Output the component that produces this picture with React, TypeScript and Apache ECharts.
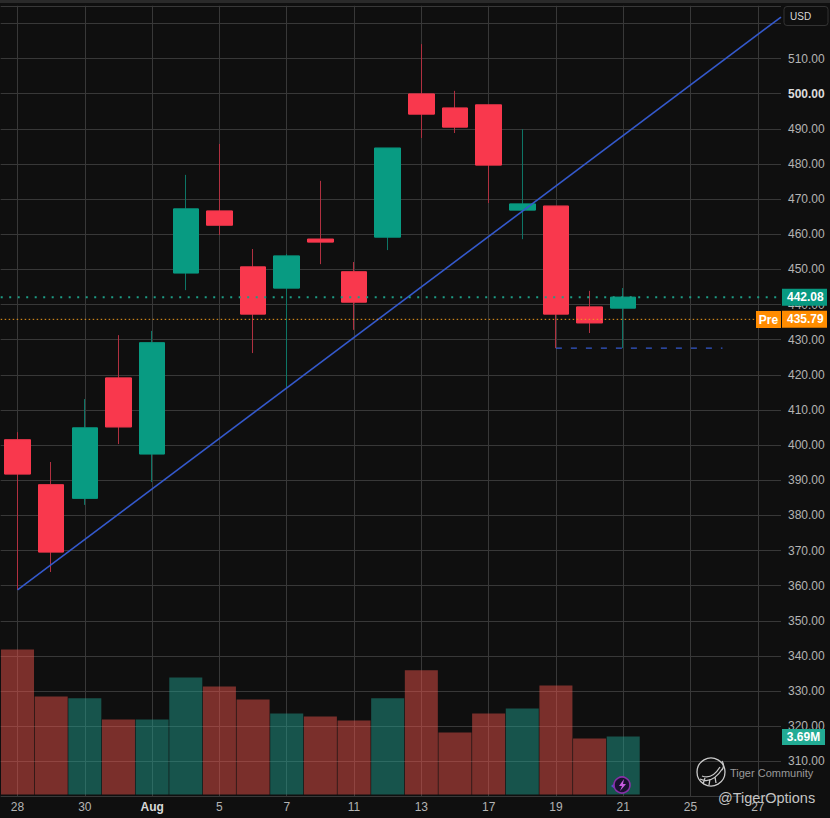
import React, { useEffect, useRef } from "react";
import * as echarts from "echarts";

const categories = ["28","29","30","31","Aug","4","5","6","7","8","11","12","13","14","17","18","19","20","21","22","25","26","27","28"];
// [open, close, low, high]
const candles = [
  [401.5,391.8,358.8,403.7],[388.7,369.6,363.9,395.2],[384.9,404.9,383.0,413.1],[419.1,405.2,400.3,431.3],
  [397.5,429.1,389.5,432.5],[449.0,467.2,444.1,476.9],[466.6,462.6,459.8,485.7],[450.7,437.3,426.2,455.8],
  [444.7,453.8,416.3,454.4],[458.6,457.8,451.5,475.2],[449.3,440.7,432.8,452.1],[459.2,484.5,455.5,484.5],
  [499.9,494.2,487.4,514.1],[495.9,490.5,488.8,500.8],[496.8,479.7,468.9,496.8],[466.9,468.6,458.6,489.9],
  [468.0,437.3,427.6,468.0],[439.3,434.8,431.9,443.9],[439.0,442.08,427.6,444.7],
];
const volumes = [9.22,6.23,6.11,4.77,4.77,7.44,6.87,6.04,5.15,4.96,4.71,6.11,7.89,3.94,5.15,5.47,6.93,3.56,3.69];
const trendLine = [[0,358.8],[22.69,521.8]];
const supportLine = [[16,427.6],[20.95,427.6]];
const lastPrice = 442.08;
const prePrice = 435.79;
const lastVolume = "3.69M";
const xEnd = [-0.5, 22.69];
const priceRange = [300, 525];
const volumeMax = 50.5;

const UP = "#089b82", DOWN = "#f9384d";
const UP_WICK = "#0d7566", DOWN_WICK = "#b03040";
const LEFT = 0.7, RIGHT_EDGE = 781, STEP = 33.65;
const TOP = 5.8, BOTTOM = 796.6;
const FONT = "'Liberation Sans', Arial, sans-serif";

echarts.graphic.registerShape("bolt", echarts.graphic.extendPath("M624 779L619 786L622 786L620 791L626 784L623 784Z", {}));
echarts.graphic.registerShape("tigerStripes", echarts.graphic.extendPath(
  "M702 776Q712 780 720 767M700 779Q712 785 723 768M722 761Q725 766 722 770M705 778L703 784M710 779L709 785M715 777L716 783", {}));

function tag(x: number, y: number, w: number, h: number, fill: string, text: string, bold = true) {
  return {
    type: "group", z: 30,
    children: [
      { type: "rect", z: 30, shape: { x, y, width: w, height: h }, style: { fill } },
      { type: "text", z: 31, x: x + w / 2, y: y + h / 2,
        style: { text, fill: "#fff", font: `${bold ? "bold " : ""}12px ${FONT}`, align: "center", verticalAlign: "middle" } },
    ],
  };
}

export default function App() {
  const ref = useRef<HTMLDivElement>(null);
  useEffect(() => {
    document.body.style.margin = "0";
    const chart = echarts.init(ref.current!, null, { renderer: "svg" });
    const gridWidth = STEP * categories.length;
    const tagLine = (name: string, value: number, color: string, width: number, dash: number[], bg: string) => ({
      name, type: "line", xAxisIndex: 2, yAxisIndex: 3, z: 6, silent: true, symbol: "none",
      lineStyle: { color, width, type: dash },
      data: [[xEnd[0], value], [xEnd[1], value]],
      endLabel: {
        show: true, formatter: value.toFixed(2), distance: 1, color: "#fff", backgroundColor: bg,
        fontFamily: FONT, fontSize: 12, fontWeight: "bold", padding: [3, 3, 3, 5], width: 37, height: 11, lineHeight: 11, align: "left",
      },
    });
    chart.setOption({
      animation: false,
      backgroundColor: "#0f0f0f",
      textStyle: { fontFamily: FONT },
      grid: [
        { left: LEFT, top: TOP, width: gridWidth, height: BOTTOM - TOP, containLabel: false },
        { left: LEFT, top: 0, width: gridWidth, height: 794.5 },
        { left: LEFT, top: TOP, width: RIGHT_EDGE - LEFT, height: BOTTOM - TOP },
      ],
      xAxis: [
        {
          type: "category", gridIndex: 0, data: categories, boundaryGap: true,
          axisLine: { show: false }, axisTick: { show: false },
          axisLabel: {
            interval: 1, color: "#b4b4b4", fontSize: 12, margin: 4, hideOverlap: false,
            formatter: (v: string) => (v === "Aug" ? `{b|${v}}` : v),
            rich: { b: { fontWeight: "bold", color: "#d8d8d8", fontSize: 12 } },
          },
          splitLine: { show: true, interval: 1, alignWithLabel: true, lineStyle: { color: "#383838", width: 1 } },
        },
        { type: "category", gridIndex: 1, data: categories, show: false },
        { type: "value", gridIndex: 2, min: xEnd[0], max: xEnd[1], show: false, splitLine: { show: false } },
      ],
      yAxis: [
        { type: "value", gridIndex: 0, min: priceRange[0], max: priceRange[1], show: false, splitLine: { show: false } },
        { type: "value", gridIndex: 1, min: 0, max: volumeMax, show: false, splitLine: { show: false } },
        { type: "value", gridIndex: 2, min: priceRange[0], max: priceRange[1], show: false, splitLine: { show: false } },
        {
          type: "value", gridIndex: 2, position: "right", min: priceRange[0], max: priceRange[1], interval: 10,
          axisLine: { show: false }, axisTick: { show: false },
          splitLine: { show: true, lineStyle: { color: "#383838", width: 1 } },
          axisLabel: {
            color: "#b4b4b4", fontSize: 12, margin: 7,
            showMinLabel: false, showMaxLabel: false,
            formatter: (v: number) => {
              if (v >= 520 || v <= 300) return "";
              return v === 500 ? `{b|${v.toFixed(2)}}` : v.toFixed(2);
            },
            rich: { b: { fontWeight: "bold", color: "#dcdcdc", fontSize: 12 } },
          },
        },
      ],
      series: [
        {
          name: "Volume", type: "bar", xAxisIndex: 1, yAxisIndex: 1, barWidth: 33, z: 1, silent: true,
          data: volumes.map((v, i) => ({
            value: v,
            itemStyle: { color: candles[i][1] >= candles[i][0] ? "rgba(34,160,145,0.48)" : "rgba(240,84,76,0.48)" },
          })),
        },
        {
          name: "Wicks", type: "candlestick", xAxisIndex: 0, yAxisIndex: 0, barWidth: 26, z: 2, silent: true,
          itemStyle: { color: UP_WICK, color0: DOWN_WICK, borderColor: UP_WICK, borderColor0: DOWN_WICK, borderWidth: 1 },
          data: candles,
        },
        {
          name: "Price", type: "candlestick", xAxisIndex: 0, yAxisIndex: 0, barWidth: 26, z: 3, silent: true,
          itemStyle: { color: UP, color0: DOWN, borderColor: UP, borderColor0: DOWN, borderWidth: 1 },
          data: candles.map(([o, c]) => [o, c, Math.min(o, c), Math.max(o, c)]),
        },
        {
          name: "Trend", type: "line", xAxisIndex: 2, yAxisIndex: 3, z: 5, symbol: "none", silent: true,
          lineStyle: { color: "#3459cc", width: 1.6 }, data: trendLine,
        },
        {
          name: "Support", type: "line", xAxisIndex: 2, yAxisIndex: 3, z: 5, symbol: "none", silent: true,
          lineStyle: { color: "#3459cc", width: 1.4, type: [6, 9] }, data: supportLine,
        },
        tagLine("Last", lastPrice, "#1d9c85", 2, [2, 6.5], "#089981"),
        tagLine("Pre", prePrice, "#f09a1e", 1, [1.5, 2.5], "#ff8c00"),
      ],
      graphic: [
        { type: "rect", z: 20, shape: { x: 0, y: 0, width: 830, height: 3 }, style: { fill: "#2a2a2a" } },
        { type: "rect", z: 20, shape: { x: 784, y: 6.5, width: 44, height: 19, r: 3 }, style: { fill: "#0f0f0f", stroke: "#333333", lineWidth: 1 } },
        { type: "text", z: 21, x: 790, y: 16, style: { text: "USD", fill: "#d8d8d8", font: `10px ${FONT}`, verticalAlign: "middle" } },
        tag(756, 311, 25, 17, "#ff8c00", "Pre", true),
        tag(782, 729, 43, 16, "#22ab94", lastVolume, true),
        { type: "polygon", z: 20, shape: { points: [[611, 786], [616, 782], [616, 790]] }, style: { fill: "#5a4fd0" } },
        { type: "circle", z: 20, shape: { cx: 622, cy: 785, r: 8 }, style: { fill: "#1a1030", stroke: "#8a2fa8", lineWidth: 1.6 } },
        { type: "bolt", z: 21, style: { fill: "#c85ce0" } },
        { type: "circle", z: 20, shape: { cx: 711, cy: 772, r: 14 }, style: { fill: "transparent", stroke: "#c9c9c9", lineWidth: 1.3 } },
        { type: "tigerStripes", z: 20, style: { fill: "none", stroke: "#c9c9c9", lineWidth: 1.3 } },
        { type: "text", z: 20, x: 730, y: 773, style: { text: "Tiger Community", fill: "#9a9a9a", font: `11px ${FONT}`, verticalAlign: "middle" } },
        { type: "text", z: 20, x: 718, y: 798, style: { text: "@TigerOptions", fill: "#c4c4c4", font: `14.5px ${FONT}`, verticalAlign: "middle" } },
      ],
    });
    return () => chart.dispose();
  }, []);
  return <div ref={ref} style={{ width: 830, height: 818, overflow: "hidden" }} />;
}
